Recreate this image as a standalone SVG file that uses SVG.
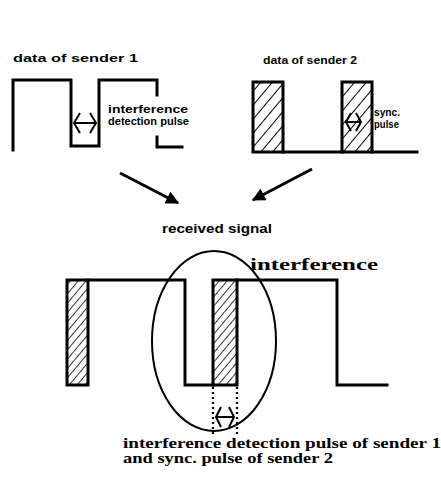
<svg xmlns="http://www.w3.org/2000/svg" width="441" height="487" viewBox="0 0 441 487">
  <style>
    .wave { fill: none; stroke: #000; stroke-width: 3; stroke-linejoin: miter; stroke-linecap: square; }
    .hatch { fill: url(#hatch); stroke: #000; stroke-width: 3; }
    .hatchS { fill: url(#hatchS); stroke: #000; stroke-width: 3; }
    .thin { fill: none; stroke: #000; stroke-width: 2; }
    .dot { fill: none; stroke: #000; stroke-width: 2.2; stroke-dasharray: 2 3; }
    .lbl { font-family: "Liberation Sans", Arial, sans-serif; font-weight: bold; fill: #000; }
    .cap { font-family: "Liberation Serif", "Times New Roman", serif; font-weight: bold; fill: #000; }
  </style>
  <defs>
    <pattern id="hatch" patternUnits="userSpaceOnUse" width="9" height="9" patternTransform="rotate(40)">
      <rect width="9" height="9" fill="#fff"/>
      <line x1="0" y1="0" x2="0" y2="9" stroke="#000" stroke-width="2"/>
    </pattern>
    <pattern id="hatchS" patternUnits="userSpaceOnUse" width="6" height="6" patternTransform="rotate(40)">
      <rect width="6" height="6" fill="#fff"/>
      <line x1="0" y1="0" x2="0" y2="6" stroke="#000" stroke-width="1.6"/>
    </pattern>
    <marker id="head" viewBox="0 0 10 10" refX="9" refY="5" markerWidth="6" markerHeight="4.4" orient="auto" markerUnits="strokeWidth">
      <path d="M0,0 L10,5 L0,10 Z" fill="#000"/>
    </marker>
  </defs>

  <!-- sender 1 data -->
  <g id="sender1">
    <text class="lbl" x="13" y="62" font-size="11" textLength="125" lengthAdjust="spacingAndGlyphs">data of  sender 1</text>
    <path class="wave" d="M13,150 V80 H71 V146 H99 V80 H157 V95 M157,137 V147 H182"/>
    <g class="thin">
      <path d="M74,123 H96"/>
      <path d="M80,113 L74,123 L80,133"/>
      <path d="M90,113 L96,123 L90,133"/>
    </g>
    <text class="lbl" x="108" y="113" font-size="11" textLength="80" lengthAdjust="spacingAndGlyphs">interference</text>
    <text class="lbl" x="108" y="125" font-size="11" textLength="81" lengthAdjust="spacingAndGlyphs">detection pulse</text>
  </g>

  <!-- sender 2 data -->
  <g id="sender2">
    <text class="lbl" x="263" y="64" font-size="11" textLength="94" lengthAdjust="spacingAndGlyphs">data of sender 2</text>
    <rect class="hatch" x="253" y="82" width="30" height="70"/>
    <rect class="hatch" x="342" y="82" width="30" height="70"/>
    <path class="wave" d="M283,152 H342 M372,152 H417"/>
    <g class="thin">
      <path d="M346,122 H361"/>
      <path d="M351,113 L346,122 L351,131"/>
      <path d="M356,113 L361,122 L356,131"/>
    </g>
    <text class="lbl" x="374" y="116" font-size="11" textLength="26" lengthAdjust="spacingAndGlyphs">sync.</text>
    <text class="lbl" x="374" y="128" font-size="11" textLength="25" lengthAdjust="spacingAndGlyphs">pulse</text>
  </g>

  <!-- combining arrows -->
  <g id="connectors" stroke="#000" stroke-width="3" fill="none">
    <line x1="120" y1="173" x2="178" y2="203" marker-end="url(#head)"/>
    <line x1="312" y1="169" x2="253" y2="200" marker-end="url(#head)"/>
  </g>

  <!-- received signal -->
  <g id="received">
    <text class="lbl" x="162" y="233" font-size="12" textLength="110" lengthAdjust="spacingAndGlyphs">received signal</text>
    <text class="cap" x="250" y="270" font-size="17" textLength="128" lengthAdjust="spacingAndGlyphs">interference</text>
    <rect class="hatchS" x="67" y="280" width="21" height="105"/>
    <rect class="hatchS" x="213" y="280" width="24" height="105"/>
    <path class="wave" d="M88,280 H185 V385 H213 M237,280 H337 V385 H387"/>
    <ellipse class="thin" cx="214" cy="341" rx="62" ry="90"/>
    <path class="dot" d="M213,387 V436 M237,387 V436"/>
    <g class="thin">
      <path d="M216,417 H234"/>
      <path d="M221,407 L216,417 L221,427"/>
      <path d="M229,407 L234,417 L229,427"/>
    </g>
  </g>

  <!-- caption -->
  <g id="caption">
    <text class="cap" x="123" y="448" font-size="14" textLength="318" lengthAdjust="spacingAndGlyphs">interference detection pulse of sender 1</text>
    <text class="cap" x="123" y="463" font-size="14" textLength="210" lengthAdjust="spacingAndGlyphs">and sync. pulse of sender 2</text>
  </g>
</svg>
